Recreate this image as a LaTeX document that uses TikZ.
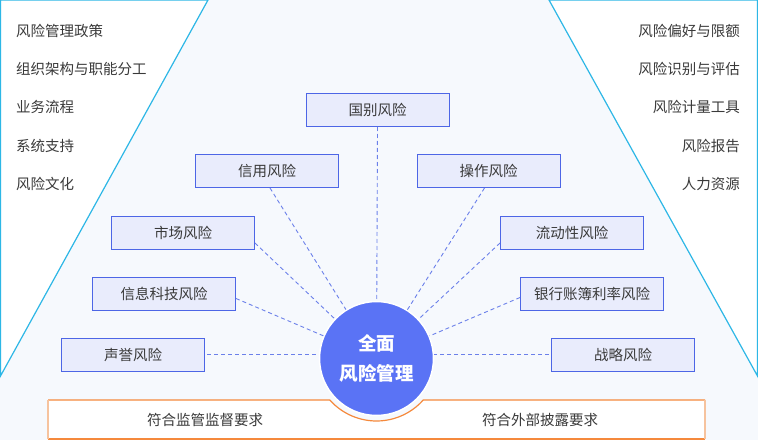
\documentclass[tikz,border=0pt]{standalone}
\usepackage{fontspec}
\setmainfont{Noto Sans CJK SC}
\usetikzlibrary{calc}
\definecolor{bgblue}{HTML}{F6F9FD}
\definecolor{panelline}{HTML}{2DB7E6}
\definecolor{boxfill}{HTML}{E9ECFC}
\definecolor{boxline}{HTML}{4D66E6}
\definecolor{dashblue}{HTML}{6B80EA}
\definecolor{corefill}{HTML}{5A73F5}
\definecolor{orangeline}{HTML}{F5893C}
\definecolor{orangelight}{HTML}{F6C39E}
\definecolor{txtgray}{HTML}{3A3A3A}
\tikzset{
	riskbox/.style={draw=boxline, fill=boxfill, line width=1pt, minimum width=143pt, minimum height=33pt, inner sep=0pt, text=txtgray, font=\fontsize{14.5}{16}\selectfont},
	listtext/.style={inner sep=0pt, text=txtgray, font=\fontsize{14.5}{16}\selectfont},
	dashline/.style={draw=dashblue, line width=0.9pt, dash pattern=on 4pt off 3pt}
}
\begin{document}
\begin{tikzpicture}[x=1pt,y=1pt]
	
	\fill[bgblue] (0,0) rectangle (758,440);
	\useasboundingbox (0,0) rectangle (758,440);
	
	% side panels
	\draw[panelline, fill=white, line width=1.2pt] (0.5,440) -- (208,440) -- (0.5,64) -- cycle;
	\draw[panelline, fill=white, line width=1.2pt] (549,440) -- (757.5,440) -- (757.5,64) -- cycle;
	
	\node[listtext, anchor=west] (l1) at (16,409) {风险管理政策};
	\node[listtext, anchor=west] (l2) at (16,371) {组织架构与职能分工};
	\node[listtext, anchor=west] (l3) at (16,333) {业务流程};
	\node[listtext, anchor=west] (l4) at (16,294) {系统支持};
	\node[listtext, anchor=west] (l5) at (16,256) {风险文化};
	
	\node[listtext, anchor=east] (r1) at (740,409) {风险偏好与限额};
	\node[listtext, anchor=east] (r2) at (740,371) {风险识别与评估};
	\node[listtext, anchor=east] (r3) at (740,333) {风险计量工具};
	\node[listtext, anchor=east] (r4) at (740,294) {风险报告};
	\node[listtext, anchor=east] (r5) at (740,256) {人力资源};
	
	% bottom bar with notch
	\fill[white] (48,40) -- (329.8,40) arc[start angle=221.6, end angle=318.4, radius=62.5] -- (705,40) -- (705,1) -- (48,1) -- cycle;
	\draw[orangeline, line width=1.2pt] (48,40) -- (329.8,40) arc[start angle=221.6, end angle=318.4, radius=62.5] -- (705,40);
	\draw[orangeline, line width=1.2pt] (48,1) -- (705,1);
	\draw[orangelight, line width=1.8pt] (48,40) -- (48,1);
	\draw[orangelight, line width=1.8pt] (705,40) -- (705,1);
	\node[listtext] (need1) at (205,20) {符合监管监督要求};
	\node[listtext] (need2) at (540,20) {符合外部披露要求};
	
	% risk boxes
	\node[riskbox] (guobie) at (377.5,330) {国别风险};
	\node[riskbox] (xinyong) at (267,269) {信用风险};
	\node[riskbox] (caozuo) at (488.5,269) {操作风险};
	\node[riskbox] (shichang) at (183,207) {市场风险};
	\node[riskbox] (liudong) at (572,207) {流动性风险};
	\node[riskbox] (xinxi) at (164,146.5) {信息科技风险};
	\node[riskbox] (yinhang) at (592,146.5) {银行账簿利率风险};
	\node[riskbox] (shengyu) at (133,85.5) {声誉风险};
	\node[riskbox] (zhanlue) at (623,85.5) {战略风险};
	
	\node[circle, fill=corefill, draw=white, line width=1.5pt, minimum size=114pt, inner sep=0pt, text=white, align=center, font=\fontsize{18.5}{30}\selectfont\bfseries] (core) at (376.5,81.5) {全面\\风险管理};
	
	\draw[dashline] (guobie.south) -- (core);
	\draw[dashline] ([xshift=3pt]xinyong.south) -- (core);
	\draw[dashline] ([xshift=-4pt]caozuo.south) -- (core);
	\draw[dashline] ([yshift=-10pt]shichang.east) -- (core);
	\draw[dashline] ([yshift=-10pt]liudong.west) -- (core);
	\draw[dashline] ([yshift=-5pt]xinxi.east) -- (core);
	\draw[dashline] ([yshift=-4pt]yinhang.west) -- (core);
	\draw[dashline] ([xshift=2pt]shengyu.east) -- (shengyu.east -| core.west);
	\draw[dashline] ([xshift=-2pt]zhanlue.west) -- (zhanlue.west -| core.east);
	
\end{tikzpicture}
\end{document}
